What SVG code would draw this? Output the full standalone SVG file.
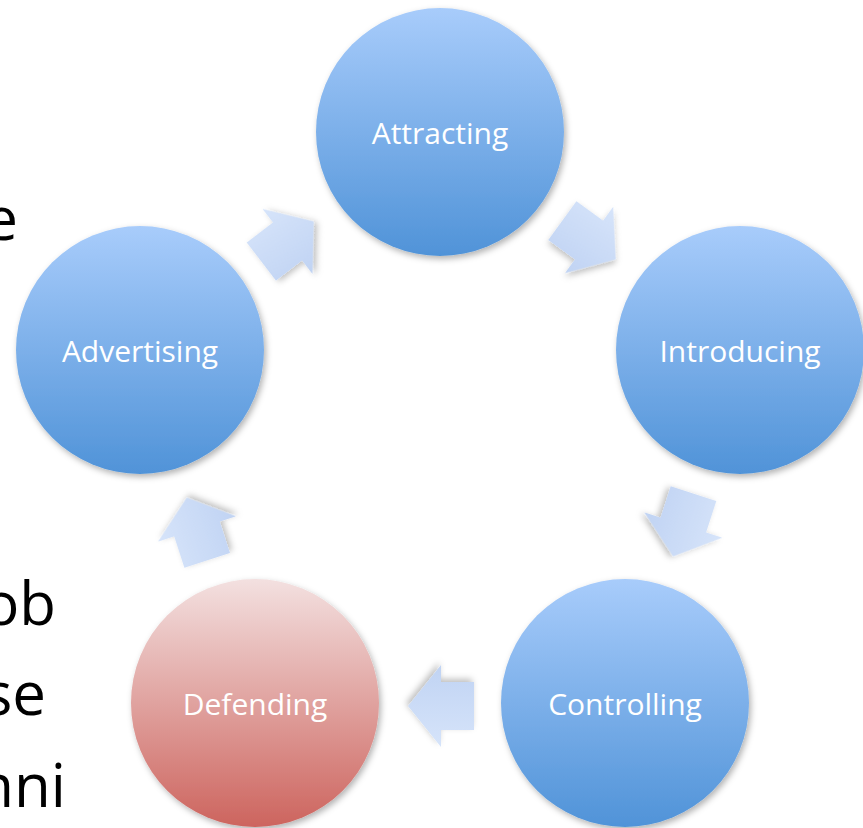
<svg xmlns="http://www.w3.org/2000/svg" width="863" height="828" viewBox="0 0 863 828">
  <style>
    .bg { font-family: "Open Sans", "Noto Sans", sans-serif; font-size: 60px; fill: #000; text-anchor: end; }
    .lbl { font-family: "Open Sans", "Noto Sans", sans-serif; font-size: 30px; fill: #fff; text-anchor: middle; }
    .blue { fill: url(#gBlue); filter: url(#sh); }
    .red { fill: url(#gRed); filter: url(#sh); }
    .arr { fill: url(#gArr); filter: url(#shA); }
  </style>
  <defs>
    <linearGradient id="gBlue" x1="0" y1="0" x2="0" y2="1">
      <stop offset="0" stop-color="#a8ccfb"/>
      <stop offset="1" stop-color="#5093d8"/>
    </linearGradient>
    <linearGradient id="gRed" x1="0" y1="0" x2="0" y2="1">
      <stop offset="0" stop-color="#f3e0e0"/>
      <stop offset="1" stop-color="#cd645e"/>
    </linearGradient>
    <linearGradient id="gArr" x1="0" y1="0" x2="0" y2="1">
      <stop offset="0" stop-color="#d6e4fa"/>
      <stop offset="1" stop-color="#c0d3f3"/>
    </linearGradient>
    <filter id="sh" x="-20%" y="-20%" width="140%" height="140%">
      <feDropShadow dx="2" dy="3" stdDeviation="3" flood-color="#000" flood-opacity="0.3"/>
    </filter>
    <filter id="shA" x="-30%" y="-30%" width="160%" height="160%">
      <feDropShadow dx="2" dy="3" stdDeviation="3" flood-color="#000" flood-opacity="0.25"/>
    </filter>
    <polygon id="arrow" points="-33,-24 0,-24 0,-41 33,0 0,41 0,24 -33,24"/>
  </defs>

  <g id="background-text">
    <text class="bg" x="18" y="240">e</text>
    <text class="bg" x="56" y="625">ob</text>
    <text class="bg" x="46" y="715">se</text>
    <text class="bg" x="66" y="807">nni</text>
  </g>

  <g id="connectors">
    <use href="#arrow" class="arr" transform="translate(287.5,241.5) rotate(-37.5)"/>
    <use href="#arrow" class="arr" transform="translate(589,240) rotate(36)"/>
    <use href="#arrow" class="arr" transform="translate(683.3,525) rotate(108)"/>
    <use href="#arrow" class="arr" transform="translate(441,706) rotate(180)"/>
    <use href="#arrow" class="arr" transform="translate(197,529) rotate(252)"/>
  </g>

  <g id="attracting">
    <circle class="blue" cx="440" cy="132" r="124"/>
    <text class="lbl" x="440" y="144">Attracting</text>
  </g>
  <g id="introducing">
    <circle class="blue" cx="740" cy="350" r="124"/>
    <text class="lbl" x="740" y="362">Introducing</text>
  </g>
  <g id="controlling">
    <circle class="blue" cx="625" cy="703" r="124"/>
    <text class="lbl" x="625" y="715">Controlling</text>
  </g>
  <g id="defending">
    <circle class="red" cx="255" cy="703" r="124"/>
    <text class="lbl" x="255" y="715">Defending</text>
  </g>
  <g id="advertising">
    <circle class="blue" cx="140" cy="350" r="124"/>
    <text class="lbl" x="140" y="362">Advertising</text>
  </g>
</svg>
